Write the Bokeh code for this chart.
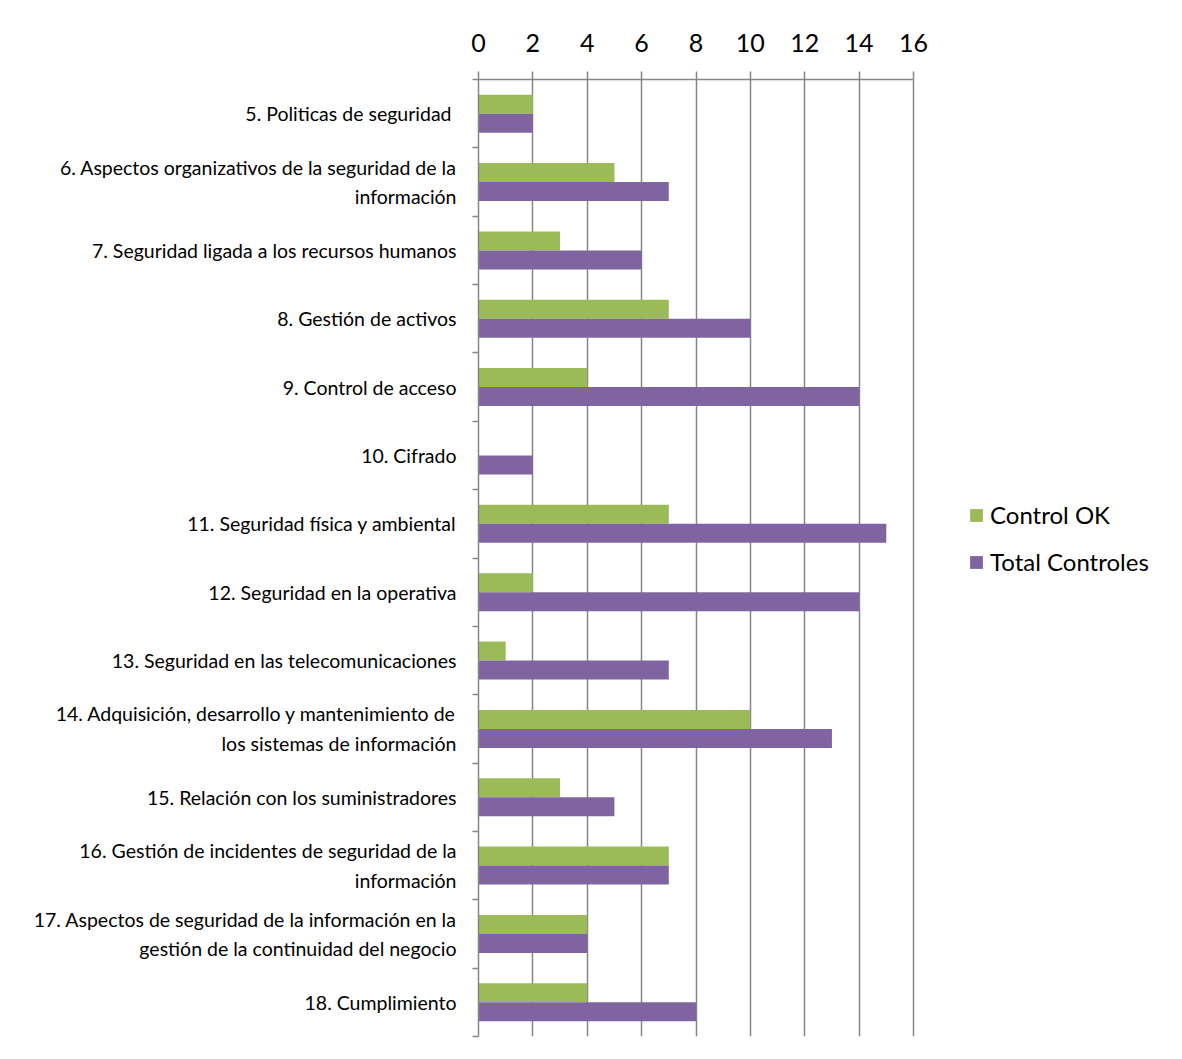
from bokeh.plotting import figure
from bokeh.models import Range1d, FixedTicker, Legend, LegendItem, ColumnDataSource
from bokeh.transform import dodge
from bokeh.embed import file_html
from bokeh.resources import INLINE

categories = [
    "5. Politicas de  seguridad",
    "6. Aspectos organizativos de la seguridad de la\ninformación",
    "7. Seguridad ligada a los recursos humanos",
    "8. Gestión de activos",
    "9. Control de acceso",
    "10. Cifrado",
    "11. Seguridad física y ambiental",
    "12. Seguridad en la operativa",
    "13. Seguridad en las telecomunicaciones",
    "14. Adquisición, desarrollo y mantenimiento de\nlos sistemas de información",
    "15. Relación con los suministradores",
    "16. Gestión de incidentes de seguridad de la\ninformación",
    "17. Aspectos de seguridad de la información en la\ngestión de la continuidad del negocio",
    "18. Cumplimiento",
]
control_ok = [2, 5, 3, 7, 4, 0, 7, 2, 1, 10, 3, 7, 4, 4]
total_controles = [2, 7, 6, 10, 14, 2, 15, 14, 7, 13, 5, 7, 4, 8]
x_ticks = [0, 2, 4, 6, 8, 10, 12, 14, 16]

GREEN = "#9BBB59"
PURPLE = "#8064A2"
GRID = "#868686"
FONT = "Lato"

n = len(categories)
centers = [n - i - 0.5 for i in range(n)]
bounds = list(range(n + 1))

src = ColumnDataSource(dict(
    y=centers,
    ok=control_ok,
    tot=total_controles,
))

# frame spans x pixels 478..1177; value axis 0..16 occupies 478..913
LEFT, AXIS_END, RIGHT = 478, 913, 1177
x_max = 16
x_end = x_max * (RIGHT - LEFT) / (AXIS_END - LEFT)

p = figure(width=1182, height=1059, output_backend="svg", toolbar_location=None,
           x_range=Range1d(0, x_end), y_range=Range1d(0, n),
           x_axis_location="above",
           min_border_left=LEFT, min_border_right=1182 - RIGHT, min_border_top=79, min_border_bottom=23)
p.outline_line_color = None
p.background_fill_color = "white"
p.border_fill_color = "white"

bh = 0.278
r_ok = p.hbar(y=dodge("y", bh / 2, range=p.y_range), right="ok", left=0, height=bh,
              source=src, fill_color=GREEN, line_color=None)
r_tot = p.hbar(y=dodge("y", -bh / 2, range=p.y_range), right="tot", left=0, height=bh,
               source=src, fill_color=PURPLE, line_color=None)

# x axis (top)
xa = p.xaxis[0]
xa.ticker = FixedTicker(ticks=x_ticks)
xa.bounds = (0, x_max)
xa.axis_line_color = GRID
xa.axis_line_width = 1.5
xa.major_tick_line_color = GRID
xa.major_tick_line_width = 1.5
xa.major_tick_out = 8
xa.major_tick_in = 0
xa.minor_tick_line_color = None
xa.major_label_text_font = FONT
xa.major_label_text_font_size = "25px"
xa.major_label_text_color = "black"
xa.major_label_standoff = 20

p.xgrid.ticker = FixedTicker(ticks=x_ticks)
p.xgrid.grid_line_color = GRID
p.xgrid.grid_line_width = 1.5
p.ygrid.grid_line_color = None

# y axis (left)
ya = p.yaxis[0]
ya.ticker = FixedTicker(ticks=centers, minor_ticks=bounds)
ya.major_label_overrides = {c: lab for c, lab in zip(centers, categories)}
ya.axis_line_color = GRID
ya.axis_line_width = 1.5
ya.major_tick_line_color = None
ya.major_tick_out = 0
ya.major_tick_in = 0
ya.minor_tick_line_color = GRID
ya.minor_tick_line_width = 1.5
ya.minor_tick_out = 6
ya.minor_tick_in = 0
ya.major_label_text_font = FONT
ya.major_label_text_font_size = "19.5px"
ya.major_label_text_line_height = 1.3
ya.major_label_text_color = "black"
ya.major_label_standoff = 16

legend = Legend(items=[LegendItem(label="Control OK", renderers=[r_ok]),
                       LegendItem(label="Total Controles", renderers=[r_tot])],
                location=(490, 460), orientation="vertical")
legend.label_text_font = FONT
legend.label_text_font_size = "24px"
legend.label_text_color = "black"
legend.glyph_width = 16
legend.glyph_height = 16
legend.label_standoff = 6
legend.spacing = 18
legend.border_line_color = None
legend.background_fill_alpha = 0
legend.padding = 0
legend.margin = 0
p.add_layout(legend, "center")

open("out.html", "w").write(file_html(p, INLINE))
